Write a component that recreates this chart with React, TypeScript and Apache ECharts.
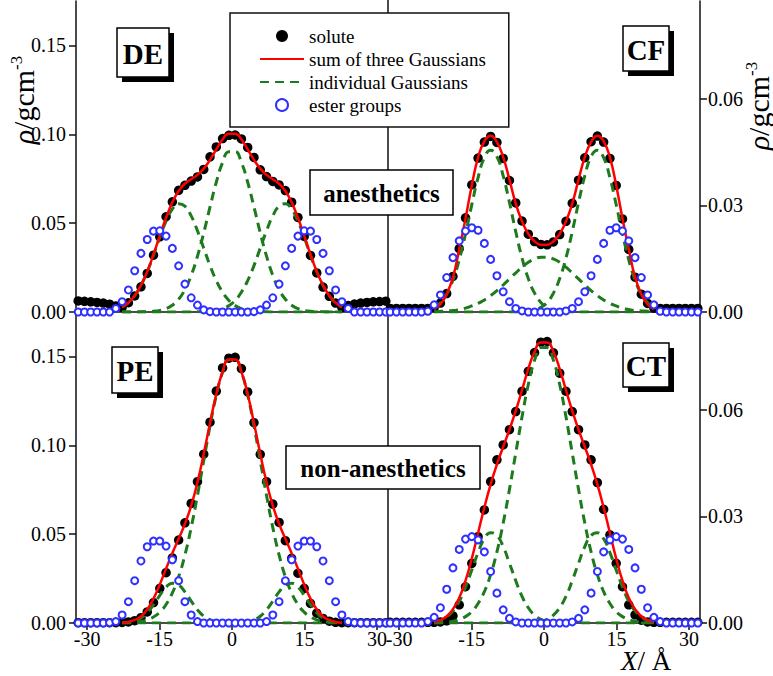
import React, { useEffect, useRef } from 'react';
import * as echarts from 'echarts';

// ---- grid of positions along X (Å) ----
const xs = [-31.85, -30.55, -29.25, -27.95, -26.65, -25.35, -24.05, -22.75, -21.45, -20.15, -18.85, -17.55, -16.25, -14.95, -13.65, -12.35, -11.05, -9.75, -8.45, -7.15, -5.85, -4.55, -3.25, -1.95, -0.65,
  0.65, 1.95, 3.25, 4.55, 5.85, 7.15, 8.45, 9.75, 11.05, 12.35, 13.65, 14.95, 16.25, 17.55, 18.85, 20.15, 21.45, 22.75, 24.05, 25.35, 26.65, 27.95, 29.25, 30.55, 31.85];
const curveX = [-22.75, -21.45, -20.15, -18.85, -17.55, -16.25, -14.95, -13.65, -12.35, -11.05, -9.75, -8.45, -7.15, -5.85, -4.55, -3.25, -1.95, -0.65,
  0.65, 1.95, 3.25, 4.55, 5.85, 7.15, 8.45, 9.75, 11.05, 12.35, 13.65, 14.95, 16.25, 17.55, 18.85, 20.15, 21.45, 22.75];

// ---- DE ----
const deSolute = [0.0062, 0.0060, 0.0057, 0.0054, 0.0050, 0.0044, 0.0034, 0.0026, 0.0052, 0.0090, 0.0142, 0.0217, 0.0320, 0.0423, 0.0536, 0.0620, 0.0685, 0.0713, 0.0737, 0.0760, 0.0802, 0.0873, 0.0929, 0.0976, 0.0994,
  0.0996, 0.0974, 0.0926, 0.0870, 0.0800, 0.0762, 0.0735, 0.0715, 0.0683, 0.0618, 0.0532, 0.0425, 0.0318, 0.0220, 0.0140, 0.0088, 0.0050, 0.0025, 0.0036, 0.0045, 0.0050, 0.0054, 0.0057, 0.0059, 0.0061];
const deEster = [0, 0, 0, 0, 0, 0, 0.0020, 0.0058, 0.0124, 0.0232, 0.0330, 0.0408, 0.0455, 0.0457, 0.0427, 0.0358, 0.0260, 0.0157, 0.0080, 0.0039, 0.0012, 0.0002, 0, 0, 0,
  0, 0, 0, 0.0002, 0.0012, 0.0039, 0.0080, 0.0157, 0.0260, 0.0358, 0.0427, 0.0457, 0.0455, 0.0408, 0.0330, 0.0232, 0.0124, 0.0058, 0.0020, 0, 0, 0, 0, 0, 0];
const deSum = [0.0028, 0.0052, 0.0092, 0.0150, 0.0228, 0.0324, 0.0429, 0.0530, 0.0617, 0.0681, 0.0722, 0.0747, 0.0772, 0.0807, 0.0856, 0.0915, 0.0971, 0.1003,
  0.1003, 0.0971, 0.0915, 0.0856, 0.0807, 0.0772, 0.0747, 0.0722, 0.0681, 0.0617, 0.0530, 0.0429, 0.0324, 0.0228, 0.0150, 0.0092, 0.0052, 0.0028];
const deGaussL = [0.0028, 0.0052, 0.0092, 0.0150, 0.0227, 0.0320, 0.0420, 0.0511, 0.0579, 0.0609, 0.0596, 0.0541, 0.0457, 0.0359, 0.0261, 0.0177, 0.0112, 0.0065,
  0.0036, 0.0018, 0.0008, 0.0004, 0.0002, 0.0001, 0, 0, 0, 0, 0, 0, 0, 0, 0, 0, 0, 0];
const deGaussC = [0, 0, 0, 0.0001, 0.0001, 0.0004, 0.0009, 0.0019, 0.0038, 0.0072, 0.0126, 0.0206, 0.0314, 0.0446, 0.0591, 0.0730, 0.0841, 0.0902,
  0.0902, 0.0841, 0.0730, 0.0591, 0.0446, 0.0314, 0.0206, 0.0126, 0.0072, 0.0038, 0.0019, 0.0009, 0.0004, 0.0001, 0.0001, 0, 0, 0];
const deGaussR = [0, 0, 0, 0, 0, 0, 0, 0, 0, 0, 0, 0, 0.0001, 0.0002, 0.0004, 0.0008, 0.0018, 0.0036,
  0.0065, 0.0112, 0.0177, 0.0261, 0.0359, 0.0457, 0.0541, 0.0596, 0.0609, 0.0579, 0.0511, 0.0420, 0.0320, 0.0227, 0.0150, 0.0092, 0.0052, 0.0028];

// ---- CF ----
const cfSolute = [0.0010, 0.0010, 0.0010, 0.0010, 0.0010, 0.0010, 0.0010, 0.0012, 0.0025, 0.0052, 0.0100, 0.0178, 0.0265, 0.0358, 0.0433, 0.0478, 0.0494, 0.0477, 0.0432, 0.0370, 0.0307, 0.0256, 0.0219, 0.0198, 0.0190,
  0.0189, 0.0197, 0.0218, 0.0255, 0.0306, 0.0371, 0.0434, 0.0479, 0.0495, 0.0478, 0.0432, 0.0356, 0.0262, 0.0176, 0.0098, 0.0050, 0.0024, 0.0011, 0.0010, 0.0010, 0.0010, 0.0010, 0.0010, 0.0010, 0.0010];
const cfEster = [0, 0, 0, 0, 0, 0, 0.0002, 0.0020, 0.0048, 0.0097, 0.0153, 0.0200, 0.0228, 0.0237, 0.0230, 0.0193, 0.0148, 0.0102, 0.0057, 0.0029, 0.0010, 0.0003, 0, 0, 0,
  0, 0, 0, 0.0003, 0.0010, 0.0029, 0.0057, 0.0102, 0.0148, 0.0193, 0.0230, 0.0237, 0.0228, 0.0200, 0.0153, 0.0097, 0.0048, 0.0020, 0.0002, 0, 0, 0, 0, 0, 0];
const cfSum = [0.0008, 0.0022, 0.0050, 0.0098, 0.0177, 0.0263, 0.0356, 0.0435, 0.0480, 0.0496, 0.0478, 0.0436, 0.0372, 0.0305, 0.0255, 0.0220, 0.0199, 0.0189,
  0.0189, 0.0199, 0.0220, 0.0255, 0.0305, 0.0372, 0.0436, 0.0478, 0.0496, 0.0480, 0.0435, 0.0356, 0.0263, 0.0177, 0.0098, 0.0050, 0.0022, 0.0008];
const cfGaussL = [0.0012, 0.0026, 0.0050, 0.0090, 0.0147, 0.0220, 0.0302, 0.0378, 0.0434, 0.0455, 0.0437, 0.0383, 0.0308, 0.0226, 0.0152, 0.0094, 0.0053, 0.0027,
  0.0013, 0.0006, 0.0002, 0.0001, 0, 0, 0, 0, 0, 0, 0, 0, 0, 0, 0, 0, 0, 0];
const cfGaussC = [0.0001, 0.0002, 0.0003, 0.0004, 0.0007, 0.0011, 0.0017, 0.0024, 0.0034, 0.0046, 0.0060, 0.0076, 0.0093, 0.0110, 0.0126, 0.0140, 0.0149, 0.0154,
  0.0154, 0.0149, 0.0140, 0.0126, 0.0110, 0.0093, 0.0076, 0.0060, 0.0046, 0.0034, 0.0024, 0.0017, 0.0011, 0.0007, 0.0004, 0.0003, 0.0002, 0.0001];
const cfGaussR = [0, 0, 0, 0, 0, 0, 0, 0, 0, 0, 0, 0, 0, 0, 0.0001, 0.0002, 0.0006, 0.0013,
  0.0027, 0.0053, 0.0094, 0.0152, 0.0226, 0.0308, 0.0383, 0.0437, 0.0455, 0.0434, 0.0378, 0.0302, 0.0220, 0.0147, 0.0090, 0.0050, 0.0026, 0.0012];

// ---- PE ----
const peSolute = [0.0002, 0.0002, 0.0002, 0.0002, 0.0002, 0.0002, 0.0002, 0.0003, 0.0006, 0.0013, 0.0030, 0.0062, 0.0115, 0.0195, 0.0283, 0.0366, 0.0467, 0.0564, 0.0673, 0.0795, 0.0950, 0.1130, 0.1305, 0.1435, 0.1490,
  0.1495, 0.1432, 0.1300, 0.1127, 0.0949, 0.0795, 0.0669, 0.0566, 0.0463, 0.0364, 0.0280, 0.0195, 0.0110, 0.0055, 0.0026, 0.0010, 0.0004, 0.0002, 0.0002, 0.0002, 0.0002, 0.0002, 0.0002, 0.0002, 0.0002];
const peEster = [0, 0, 0, 0, 0, 0.0002, 0.0008, 0.0045, 0.0120, 0.0238, 0.0349, 0.0429, 0.0461, 0.0461, 0.0433, 0.0356, 0.0238, 0.0120, 0.0045, 0.0008, 0, 0, 0, 0, 0,
  0, 0, 0, 0, 0, 0.0008, 0.0045, 0.0120, 0.0238, 0.0356, 0.0433, 0.0461, 0.0461, 0.0429, 0.0349, 0.0238, 0.0120, 0.0045, 0.0008, 0.0002, 0, 0, 0, 0, 0];
const peSum = [0.0002, 0.0006, 0.0017, 0.0037, 0.0076, 0.0137, 0.0217, 0.0306, 0.0393, 0.0474, 0.0558, 0.0660, 0.0792, 0.0952, 0.1126, 0.1287, 0.1413, 0.1483,
  0.1483, 0.1413, 0.1287, 0.1126, 0.0952, 0.0792, 0.0660, 0.0558, 0.0474, 0.0393, 0.0306, 0.0217, 0.0137, 0.0076, 0.0037, 0.0017, 0.0006, 0.0002];
const peGaussL = [0.0001, 0.0004, 0.0012, 0.0028, 0.0058, 0.0103, 0.0156, 0.0202, 0.0224, 0.0214, 0.0175, 0.0123, 0.0074, 0.0038, 0.0017, 0.0006, 0.0002, 0.0001,
  0, 0, 0, 0, 0, 0, 0, 0, 0, 0, 0, 0, 0, 0, 0, 0, 0, 0];
const peGaussC = [0.0001, 0.0002, 0.0005, 0.0009, 0.0018, 0.0034, 0.0061, 0.0104, 0.0169, 0.0260, 0.0383, 0.0537, 0.0718, 0.0914, 0.1109, 0.1281, 0.1411, 0.1481,
  0.1481, 0.1411, 0.1281, 0.1109, 0.0914, 0.0718, 0.0537, 0.0383, 0.0260, 0.0169, 0.0104, 0.0061, 0.0034, 0.0018, 0.0009, 0.0005, 0.0002, 0.0001];
const peGaussR = [0, 0, 0, 0, 0, 0, 0, 0, 0, 0, 0, 0, 0, 0, 0, 0, 0, 0,
  0.0001, 0.0002, 0.0006, 0.0017, 0.0038, 0.0074, 0.0123, 0.0175, 0.0214, 0.0224, 0.0202, 0.0156, 0.0103, 0.0058, 0.0028, 0.0012, 0.0004, 0.0001];

// ---- CT ----
const ctSolute = [0.0002, 0.0002, 0.0002, 0.0002, 0.0002, 0.0002, 0.0002, 0.0002, 0.0003, 0.0006, 0.0020, 0.0051, 0.0102, 0.0168, 0.0243, 0.0318, 0.0398, 0.0459, 0.0501, 0.0544, 0.0595, 0.0652, 0.0708, 0.0761, 0.0790,
  0.0792, 0.0760, 0.0703, 0.0652, 0.0595, 0.0544, 0.0501, 0.0459, 0.0395, 0.0320, 0.0248, 0.0168, 0.0102, 0.0051, 0.0023, 0.0008, 0.0003, 0.0002, 0.0002, 0.0002, 0.0002, 0.0002, 0.0002, 0.0002, 0.0002];
const ctEster = [0, 0, 0, 0, 0, 0, 0.0004, 0.0016, 0.0043, 0.0095, 0.0155, 0.0207, 0.0236, 0.0243, 0.0234, 0.0200, 0.0145, 0.0084, 0.0037, 0.0013, 0.0003, 0, 0, 0, 0,
  0, 0, 0, 0, 0.0003, 0.0013, 0.0037, 0.0084, 0.0145, 0.0200, 0.0234, 0.0243, 0.0236, 0.0207, 0.0155, 0.0095, 0.0043, 0.0016, 0.0004, 0, 0, 0, 0, 0, 0];
const ctSum = [0.0003, 0.0008, 0.0019, 0.0039, 0.0071, 0.0119, 0.0181, 0.0253, 0.0325, 0.0390, 0.0446, 0.0496, 0.0544, 0.0597, 0.0655, 0.0715, 0.0763, 0.0789,
  0.0789, 0.0763, 0.0715, 0.0655, 0.0597, 0.0544, 0.0496, 0.0446, 0.0390, 0.0325, 0.0253, 0.0181, 0.0119, 0.0071, 0.0039, 0.0019, 0.0008, 0.0003];
const ctGaussL = [0.0003, 0.0007, 0.0017, 0.0034, 0.0061, 0.0101, 0.0149, 0.0198, 0.0237, 0.0254, 0.0246, 0.0215, 0.0168, 0.0119, 0.0075, 0.0043, 0.0022, 0.0010,
  0.0004, 0.0002, 0.0001, 0, 0, 0, 0, 0, 0, 0, 0, 0, 0, 0, 0, 0, 0, 0];
const ctGaussC = [0, 0.0001, 0.0002, 0.0005, 0.0010, 0.0018, 0.0032, 0.0055, 0.0088, 0.0136, 0.0200, 0.0281, 0.0376, 0.0478, 0.0580, 0.0671, 0.0739, 0.0775,
  0.0775, 0.0739, 0.0671, 0.0580, 0.0478, 0.0376, 0.0281, 0.0200, 0.0136, 0.0088, 0.0055, 0.0032, 0.0018, 0.0010, 0.0005, 0.0002, 0.0001, 0];
const ctGaussR = [0, 0, 0, 0, 0, 0, 0, 0, 0, 0, 0, 0, 0, 0, 0, 0.0001, 0.0002, 0.0004,
  0.0010, 0.0022, 0.0043, 0.0075, 0.0119, 0.0168, 0.0215, 0.0246, 0.0254, 0.0237, 0.0198, 0.0149, 0.0101, 0.0061, 0.0034, 0.0017, 0.0007, 0.0003];

// ---- ticks / labels ----
const xTicks = [-30, -15, 0, 15, 30];
const leftTicks = [0, 0.05, 0.1, 0.15];
const rightTicks = [0, 0.03, 0.06];
const panelNames = ['DE', 'CF', 'PE', 'CT'];
const groupLabels = ['anesthetics', 'non-anesthetics'];
const legendNames = ['solute', 'sum of three Gaussians', 'individual Gaussians', 'ester groups'];

const FONT = 'Liberation Serif';
const AXIS_COLOR = '#111';
const GREEN = '#1d7a1d';
const RED = '#ff0000';
const BLUE = '#2f2fff';

const panels = [
  { solute: deSolute, ester: deEster, sum: deSum, gauss: [deGaussL, deGaussC, deGaussR] },
  { solute: cfSolute, ester: cfEster, sum: cfSum, gauss: [cfGaussL, cfGaussC, cfGaussR] },
  { solute: peSolute, ester: peEster, sum: peSum, gauss: [peGaussL, peGaussC, peGaussR] },
  { solute: ctSolute, ester: ctEster, sum: ctSum, gauss: [ctGaussL, ctGaussC, ctGaussR] },
];

const gridRects = [
  { left: 76, top: 1, width: 312, height: 311 },
  { left: 388, top: 1, width: 312, height: 311 },
  { left: 76, top: 312, width: 312, height: 311 },
  { left: 388, top: 312, width: 312, height: 311 },
];

const panelBoxes = [
  { x: 117, y: 28, w: 52, h: 49 },
  { x: 623, y: 26, w: 46, h: 45 },
  { x: 112, y: 347, w: 46, h: 46 },
  { x: 623, y: 343, w: 46, h: 44 },
];
const groupBoxes = [
  { x: 310, y: 170, w: 143, h: 45 },
  { x: 286, y: 446, w: 194, h: 43 },
];

function boxElements(text: string, b: { x: number; y: number; w: number; h: number }, shadow: boolean, fontSize: number) {
  const els: any[] = [];
  if (shadow) {
    els.push({ type: 'rect', z: 100, shape: { x: b.x + 5, y: b.y + 5, width: b.w, height: b.h }, style: { fill: '#000' } });
  }
  els.push({ type: 'rect', z: 101, shape: { x: b.x, y: b.y, width: b.w, height: b.h }, style: { fill: '#fff', stroke: '#000', lineWidth: 1.5 } });
  els.push({
    type: 'text', z: 102, x: b.x + b.w / 2, y: b.y + b.h / 2 + 1,
    style: { text, fontFamily: FONT, fontWeight: 'bold', fontSize, fill: '#000', align: 'center', verticalAlign: 'middle' },
  });
  return els;
}

const tickRich = { t: { fontFamily: FONT, fontSize: 20, color: '#000' } };

function buildOption() {
  const series: any[] = [];
  panels.forEach((p, i) => {
    series.push({
      type: 'scatter', name: 'solute', xAxisIndex: i, yAxisIndex: i, silent: true, z: 2,
      symbol: 'circle', symbolSize: 9.5, itemStyle: { color: '#000', opacity: 1 },
      data: xs.map((x, k) => [x, p.solute[k]]),
    });
    p.gauss.forEach((g) => {
      series.push({
        type: 'line', name: 'individual Gaussians', xAxisIndex: i, yAxisIndex: i, silent: true, z: 3,
        smooth: true, symbol: 'none', showSymbol: false,
        lineStyle: { color: GREEN, width: 3, type: [9, 6] }, itemStyle: { color: GREEN },
        data: curveX.map((x, k) => [x, g[k]]),
      });
    });
    series.push({
      type: 'line', name: 'sum of three Gaussians', xAxisIndex: i, yAxisIndex: i, silent: true, z: 4,
      smooth: true, symbol: 'none', showSymbol: false,
      lineStyle: { color: RED, width: 2.5 }, itemStyle: { color: RED },
      data: curveX.map((x, k) => [x, p.sum[k]]),
    });
    series.push({
      type: 'scatter', name: 'ester groups', xAxisIndex: i, yAxisIndex: i, silent: true, z: 5,
      symbol: 'emptyCircle', symbolSize: 7,
      itemStyle: { color: BLUE, borderColor: BLUE, borderWidth: 1, opacity: 1 },
      data: xs.map((x, k) => [x, p.ester[k]]),
    });
  });

  const xAxis = gridRects.map((_, i) => ({
    type: 'value', gridIndex: i, min: -32.3, max: 32.3,
    axisLine: { show: true, onZero: false, lineStyle: { color: AXIS_COLOR, width: 1.5 } },
    axisTick: { show: i >= 2, length: 7, customValues: xTicks, lineStyle: { color: AXIS_COLOR, width: 1.5 } },
    axisLabel: {
      show: i >= 2, customValues: xTicks, fontFamily: FONT, fontSize: 20, color: '#000', margin: 6,
      formatter: (v: number) => `{t|${v}}`, rich: tickRich,
    },
    splitLine: { show: false },
  }));

  const yAxis = gridRects.map((_, i) => {
    const left = i % 2 === 0;
    const ticks = left ? leftTicks : rightTicks;
    return {
      type: 'value', gridIndex: i, min: 0, max: left ? 0.175 : 0.0875,
      position: left ? 'left' : 'right',
      axisLine: { show: true, onZero: false, lineStyle: { color: AXIS_COLOR, width: 1.5 } },
      axisTick: { show: true, length: 7, customValues: ticks, lineStyle: { color: AXIS_COLOR, width: 1.5 } },
      axisLabel: {
        customValues: ticks, formatter: (v: number) => `{t|${v.toFixed(2)}}`, rich: tickRich,
        fontFamily: FONT, fontSize: 20, color: '#000', margin: left ? 10 : 8,
      },
      splitLine: { show: false },
    };
  });

  const graphic: any[] = [
    { type: 'line', z: 1, shape: { x1: 388, y1: 0, x2: 388, y2: 623 }, style: { stroke: AXIS_COLOR, lineWidth: 1.5 } },
  ];
  panelNames.forEach((n, i) => graphic.push(...boxElements(n, panelBoxes[i], true, 29)));
  groupLabels.forEach((n, i) => graphic.push(...boxElements(n, groupBoxes[i], false, 25)));

  const yTitleRich = {
    r: { fontFamily: FONT, fontSize: 30, fontStyle: 'italic' },
    n: { fontFamily: FONT, fontSize: 30 },
    s: { fontFamily: FONT, fontSize: 17, verticalAlign: 'top' },
  };
  graphic.push({
    type: 'text', z: 100, x: 23, y: 100, rotation: Math.PI / 2,
    style: { text: '{r|ρ}{n|/gcm}{s|-3}', rich: yTitleRich, fontFamily: FONT, fontSize: 30, fill: '#000', align: 'center', verticalAlign: 'middle' },
  });
  graphic.push({
    type: 'text', z: 100, x: 758, y: 106, rotation: Math.PI / 2,
    style: { text: '{r|ρ}{n|/gcm}{s|-3}', rich: yTitleRich, fontFamily: FONT, fontSize: 30, fill: '#000', align: 'center', verticalAlign: 'middle' },
  });
  graphic.push({
    type: 'text', z: 100, x: 621, y: 647,
    style: {
      text: '{i|X}{n|/ Å}',
      rich: { i: { fontFamily: FONT, fontSize: 27, fontStyle: 'italic' }, n: { fontFamily: FONT, fontSize: 27 } },
      fontFamily: FONT, fontSize: 27, fill: '#000', align: 'left', verticalAlign: 'top',
    },
  });

  const hiddenSymbol = { opacity: 0 };
  return {
    animation: false,
    backgroundColor: '#fff',
    textStyle: { fontFamily: FONT },
    grid: gridRects.map((g) => ({ ...g, containLabel: false })),
    xAxis,
    yAxis,
    legend: {
      data: [
        { name: legendNames[0] },
        { name: legendNames[1], itemStyle: hiddenSymbol },
        { name: legendNames[2], itemStyle: hiddenSymbol },
        { name: legendNames[3], itemStyle: { borderWidth: 1.5 } },
      ],
      orient: 'vertical', left: 230, top: 13,
      itemWidth: 44, itemHeight: 12, itemGap: 1,
      padding: [12, 23, 11, 29],
      borderColor: AXIS_COLOR, borderWidth: 1.5, backgroundColor: '#fff',
      formatter: (name: string) => `{t|${name}}`,
      textStyle: {
        fontFamily: FONT, fontSize: 19, color: '#000', lineHeight: 22,
        rich: { t: { fontFamily: FONT, fontSize: 19, color: '#000', lineHeight: 22 } },
      },
      selectedMode: false, z: 10,
    },
    series,
    graphic,
  };
}

export default function App() {
  const ref = useRef<HTMLDivElement>(null);
  useEffect(() => {
    document.body.style.margin = '0';
    if (!ref.current) return;
    const chart = echarts.init(ref.current, undefined, { renderer: 'svg' });
    chart.setOption(buildOption() as any);
    return () => chart.dispose();
  }, []);
  return <div ref={ref} style={{ position: 'fixed', left: 0, top: 0, width: 773, height: 676, background: '#fff' }} />;
}
